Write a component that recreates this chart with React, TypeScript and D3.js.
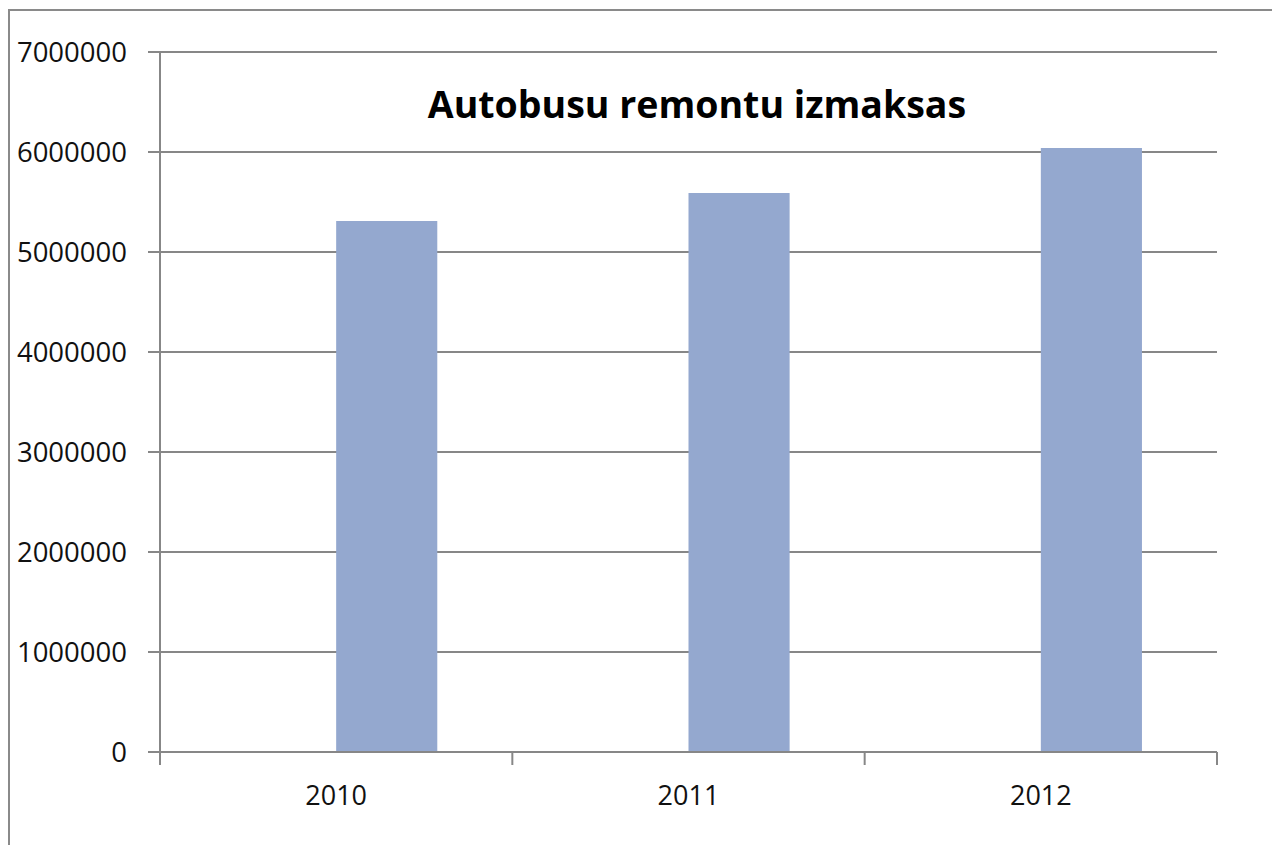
import React from "react";
import * as d3 from "d3";

const categories = ["2010", "2011", "2012"];
const values = [5310000, 5590000, 6040000];
const yTicks = [0, 1000000, 2000000, 3000000, 4000000, 5000000, 6000000, 7000000];
const title = "Autobusu remontu izmaksas";

export default function App() {
  const W = 1272, H = 845;
  const left = 160, right = 1217, top = 52, bottom = 752;
  const x = d3.scaleBand<string>().domain(categories).range([left, right]).padding(0);
  const y = d3.scaleLinear().domain([0, 7000000]).range([bottom, top]);
  const bw = x.bandwidth() * 0.287;
  const grid = "#878787";
  const font = "'Open Sans', sans-serif";
  const xTickPos = [...categories.map((c) => x(c) as number), right];

  return (
    <svg width={W} height={H} style={{ position: "absolute", left: 0, top: 0, background: "#fff" }}>
      <rect x={9} y={10} width={W + 20} height={H + 20} fill="#fff" stroke="#8a8a8a" strokeWidth={2} />
      {yTicks.map((t) => (
        <g key={t}>
          <line x1={left - 12} x2={right} y1={y(t)} y2={y(t)} stroke={grid} strokeWidth={2} />
          <text x={127} y={y(t)} dy="0.36em" textAnchor="end" fontFamily={font} fontSize={27.5} fill="#111">
            {t}
          </text>
        </g>
      ))}
      {categories.map((c, i) => (
        <rect
          key={c}
          x={(x(c) as number) + x.bandwidth() / 2}
          y={y(values[i])}
          width={bw}
          height={bottom - y(values[i])}
          fill="#94a8cf"
        />
      ))}
      <line x1={left} x2={left} y1={top} y2={bottom + 13} stroke={grid} strokeWidth={2} />
      <line x1={left - 12} x2={right} y1={bottom} y2={bottom} stroke={grid} strokeWidth={2} />
      {xTickPos.map((p, i) => (
        <line key={i} x1={p} x2={p} y1={bottom} y2={bottom + 13} stroke={grid} strokeWidth={2} />
      ))}
      {categories.map((c) => (
        <text
          key={c}
          x={(x(c) as number) + x.bandwidth() / 2}
          y={805}
          textAnchor="middle"
          fontFamily={font}
          fontSize={27}
          fill="#111"
        >
          {c}
        </text>
      ))}
      <text x={697} y={118} textAnchor="middle" fontFamily={font} fontWeight="bold" fontSize={37.5} fill="#000">
        {title}
      </text>
    </svg>
  );
}
